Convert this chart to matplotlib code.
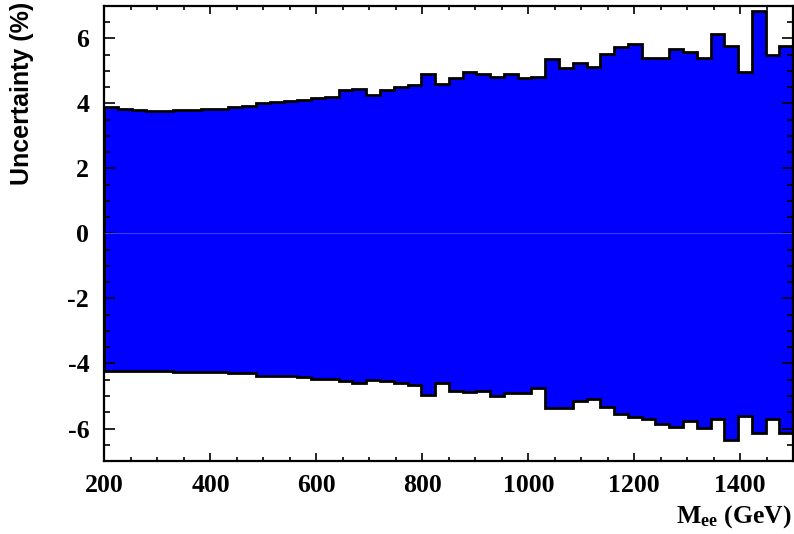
import numpy as np
import matplotlib
matplotlib.use("Agg")
import matplotlib.pyplot as plt
from matplotlib.ticker import MultipleLocator

# binning: 50 bins of 26 GeV between 200 and 1500
edges = np.linspace(200, 1500, 51)

# upper / lower uncertainty band per bin (%)
upper = [3.88, 3.82, 3.80, 3.76, 3.76, 3.80, 3.81, 3.82, 3.84, 3.89,
         3.93, 4.00, 4.04, 4.07, 4.12, 4.17, 4.19, 4.42, 4.45, 4.27,
         4.41, 4.51, 4.58, 4.91, 4.59, 4.79, 4.98, 4.91, 4.83, 4.90,
         4.78, 4.81, 5.37, 5.10, 5.25, 5.11, 5.52, 5.74, 5.84, 5.41,
         5.41, 5.68, 5.59, 5.41, 6.15, 5.77, 4.98, 6.85, 5.49, 5.78]
lower = [-4.22, -4.23, -4.23, -4.22, -4.23, -4.27, -4.26, -4.25, -4.25, -4.30,
         -4.29, -4.38, -4.38, -4.40, -4.42, -4.49, -4.49, -4.53, -4.61, -4.50,
         -4.53, -4.61, -4.67, -4.97, -4.61, -4.84, -4.88, -4.84, -5.00, -4.92,
         -4.90, -4.74, -5.38, -5.38, -5.14, -5.08, -5.34, -5.55, -5.66, -5.72,
         -5.85, -5.94, -5.78, -5.98, -5.70, -6.35, -5.62, -6.13, -5.72, -6.13]

xticks = [200, 400, 600, 800, 1000, 1200, 1400]
yticks = [-6, -4, -2, 0, 2, 4, 6]

plt.rcParams['axes.unicode_minus'] = False
plt.rcParams['mathtext.fontset'] = 'custom'
plt.rcParams['mathtext.rm'] = 'Liberation Serif:bold'
plt.rcParams['mathtext.bf'] = 'Liberation Serif:bold'
plt.rcParams['mathtext.it'] = 'Liberation Serif:bold'

fig = plt.figure(figsize=(7.94, 5.34), dpi=100)
ax = fig.add_axes([0.1316, 0.1367, 0.8674, 0.8521])

# filled band + black outlines
ax.stairs(upper, edges, baseline=lower, fill=True, color='#0000ff', lw=0)
ax.axhline(0, color='#3c3cff', lw=0.8)
ax.stairs(upper, edges, baseline=0, color='black', lw=2)
ax.stairs(lower, edges, baseline=0, color='black', lw=2)

ax.set_xlim(200, 1500)
ax.set_ylim(-7, 7)
ax.set_xticks(xticks)
ax.set_yticks(yticks)
ax.xaxis.set_minor_locator(MultipleLocator(50))
ax.yaxis.set_minor_locator(MultipleLocator(0.5))

ax.tick_params(which='both', direction='in', top=True, right=True, width=1.2)
ax.tick_params(axis='x', which='major', length=5.5, pad=9)
ax.tick_params(axis='x', which='minor', length=3)
ax.tick_params(axis='y', which='major', length=8, pad=11)
ax.tick_params(axis='y', which='minor', length=4.5)

for lab in ax.get_xticklabels() + ax.get_yticklabels():
    lab.set_fontfamily('Liberation Serif')
    lab.set_fontweight('bold')
    lab.set_fontsize(18.5)

for sp in ax.spines.values():
    sp.set_linewidth(1.6)

fig.text(0.028, 0.996, 'Uncertainty (%)', rotation=90, ha='center', va='top',
         fontsize=18, fontweight='bold', family='Liberation Sans')
fig.text(0.997, 0.022, r'$\mathbf{M_{ee}}$ (GeV)', ha='right', va='baseline',
         fontsize=18.5, fontweight='bold', family='Liberation Serif')

fig.savefig('out.png', dpi=100)
